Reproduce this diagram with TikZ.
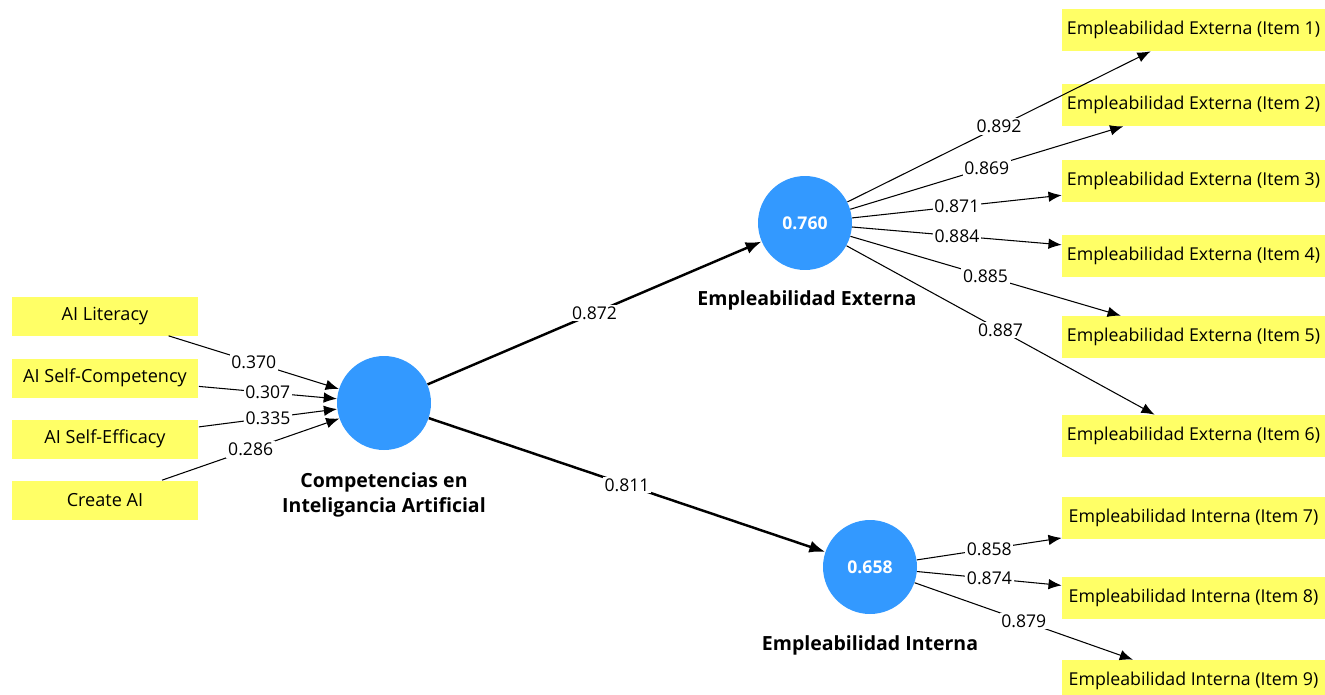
\documentclass[tikz,border=0pt]{standalone}
\usepackage{fontspec}
\setmainfont{Open Sans}
\usetikzlibrary{arrows.meta}

\definecolor{itemyellow}{RGB}{255,255,102}
\definecolor{latentblue}{RGB}{51,153,255}

\begin{document}
\begin{tikzpicture}[x=0.02cm,y=-0.02cm,
  indic/.style={fill=itemyellow,minimum width=3.74cm,minimum height=0.78cm,inner sep=0pt,font=\fontsize{10.3}{12}\selectfont},
  item/.style={fill=itemyellow,minimum width=5.26cm,minimum height=0.84cm,inner sep=0pt,font=\fontsize{10.1}{12}\selectfont},
  latent/.style={circle,fill=latentblue,minimum size=1.88cm,inner sep=0pt,text=white,font=\bfseries\fontsize{10}{12}\selectfont},
  lvname/.style={align=center,font=\bfseries\fontsize{11.1}{14.2}\selectfont},
  coef/.style={fill=white,inner sep=1pt,font=\fontsize{10}{12}\selectfont},
  link/.style={line width=0.6pt,-{Latex[length=7.5pt,width=6pt]}},
  inner/.style={line width=1.4pt,-{Latex[length=9pt,width=7pt]}}]
  \useasboundingbox (0,0) rectangle (1325,694);

  % latent variables
  \node[latent] (cia) at (384,403) {};
  \node[latent] (ext) at (805,223) {0.760};
  \node[latent] (int) at (870,567) {0.658};
  \node[lvname] at (384,495) {Competencias en\\Inteligancia Artificial};
  \node[lvname] at (807,300) {Empleabilidad Externa};
  \node[lvname] at (870,645) {Empleabilidad Interna};

  % formative indicators
  \node[indic] (lit) at (105,316) {AI Literacy};
  \node[indic] (comp) at (105,378) {AI Self-Competency};
  \node[indic] (eff) at (105,439) {AI Self-Efficacy};
  \node[indic] (create) at (105,500) {Create AI};

  % reflective items
  \node[item] (e1) at (1193.5,30) {Empleabilidad Externa (Item 1)};
  \node[item] (e2) at (1193.5,105) {Empleabilidad Externa (Item 2)};
  \node[item] (e3) at (1193.5,181) {Empleabilidad Externa (Item 3)};
  \node[item] (e4) at (1193.5,256) {Empleabilidad Externa (Item 4)};
  \node[item] (e5) at (1193.5,337) {Empleabilidad Externa (Item 5)};
  \node[item] (e6) at (1193.5,436) {Empleabilidad Externa (Item 6)};
  \node[item] (i7) at (1193.5,518) {Empleabilidad Interna (Item 7)};
  \node[item] (i8) at (1193.5,598) {Empleabilidad Interna (Item 8)};
  \node[item] (i9) at (1193.5,681) {Empleabilidad Interna (Item 9)};

  \draw[link] (lit) -- node[coef] {0.370} (cia);
  \draw[link] (comp) -- node[coef] {0.307} (cia);
  \draw[link] (eff) -- node[coef] {0.335} (cia);
  \draw[link] (create) -- node[coef] {0.286} (cia);

  \draw[inner] (cia) -- node[coef] {0.872} (ext);
  \draw[inner] (cia) -- node[coef] {0.811} (int);

  \draw[link] (ext) -- node[coef] {0.892} (e1);
  \draw[link] (ext) -- node[coef] {0.869} (e2);
  \draw[link] (ext) -- node[coef] {0.871} (e3);
  \draw[link] (ext) -- node[coef] {0.884} (e4);
  \draw[link] (ext) -- node[coef] {0.885} (e5);
  \draw[link] (ext) -- node[coef] {0.887} (e6);

  \draw[link] (int) -- node[coef] {0.858} (i7);
  \draw[link] (int) -- node[coef] {0.874} (i8);
  \draw[link] (int) -- node[coef] {0.879} (i9);
\end{tikzpicture}
\end{document}
